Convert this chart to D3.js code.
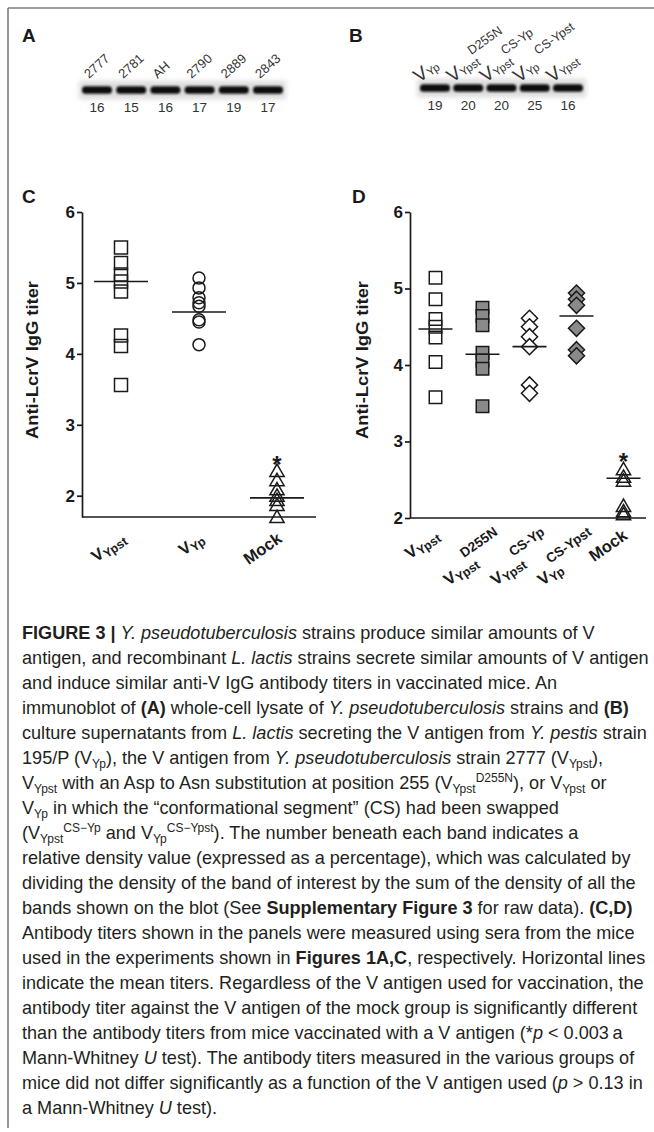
<!DOCTYPE html>
<html><head><meta charset="utf-8">
<script src="https://cdn.jsdelivr.net/npm/d3@7"></script>
<style>body{margin:0;background:#fff} svg{display:block}</style>
</head><body>
<svg id="fig" width="654" height="1132"></svg>
<script>
// ---------- DATA ----------
// Panel A: immunoblot of Y. pseudotuberculosis strains
const blotA_lanes = ["2777", "2781", "AH", "2790", "2889", "2843"];
const blotA_density = [16, 15, 16, 17, 19, 17];
// Panel B: L. lactis culture supernatants
const blotB_sub = ["Yp", "Ypst", "Ypst", "Yp", "Ypst"];
const blotB_sup = ["", "D255N", "CS-Yp", "CS-Ypst", ""];
const blotB_density = [19, 20, 20, 25, 16];
// Panel C: anti-LcrV IgG titers
const catsC = ["VYpst", "VYp", "Mock"];
const labelC = [["V", "Ypst"], ["V", "Yp"], ["Mock", ""]];
const titerC_VYpst = [5.50, 5.28, 5.12, 5.02, 4.88, 4.26, 4.11, 3.56];
const titerC_VYp = [5.07, 4.93, 4.79, 4.72, 4.67, 4.48, 4.45, 4.13];
const titerC_Mock = [2.33, 2.20, 2.07, 1.98, 1.92, 1.85, 1.68];
const meanC = [5.02, 4.59, 1.97];
const starC = 2.50;
// Panel D
const catsD = ["VYpst", "VYpstD255N", "VYpstCS-Yp", "VYpCS-Ypst", "Mock"];
const labelD_main = [["V", "Ypst"], ["V", "Ypst"], ["V", "Ypst"], ["V", "Yp"], ["Mock", ""]];
const labelD_sup = ["", "D255N", "CS-Yp", "CS-Ypst", ""];
const titerD_VYpst = [5.14, 4.86, 4.60, 4.50, 4.36, 4.04, 3.58];
const titerD_D255N = [4.75, 4.64, 4.52, 4.16, 4.06, 3.95, 3.46];
const titerD_CSYp = [4.61, 4.50, 4.37, 4.24, 3.74, 3.63];
const titerD_CSYpst = [4.94, 4.86, 4.78, 4.48, 4.20, 4.12];
const titerD_Mock = [2.62, 2.52, 2.47, 2.14, 2.07, 2.03];
const meanD = [4.47, 4.14, 4.24, 4.64, 2.52];
const starD = 2.80;
const yTicks = [2, 3, 4, 5, 6];

// Caption (rich text lines)
const captionLines = [
  [["b","FIGURE 3 | "],["i","Y. pseudotuberculosis"],["n"," strains produce similar amounts of V"]],
  [["n","antigen, and recombinant "],["i","L. lactis"],["n"," strains secrete similar amounts of V antigen"]],
  [["n","and induce similar anti-V IgG antibody titers in vaccinated mice. An"]],
  [["n","immunoblot of "],["b","(A)"],["n"," whole-cell lysate of "],["i","Y. pseudotuberculosis"],["n"," strains and "],["b","(B)"]],
  [["n","culture supernatants from "],["i","L. lactis"],["n"," secreting the V antigen from "],["i","Y. pestis"],["n"," strain"]],
  [["n","195/P (V"],["sub","Yp"],["n","), the V antigen from "],["i","Y. pseudotuberculosis"],["n"," strain 2777 (V"],["sub","Ypst"],["n","),"]],
  [["n","V"],["sub","Ypst"],["n"," with an Asp to Asn substitution at position 255 (V"],["sub","Ypst"],["sup","D255N"],["n","), or V"],["sub","Ypst"],["n"," or"]],
  [["n","V"],["sub","Yp"],["n"," in which the \u201cconformational segment\u201d (CS) had been swapped"]],
  [["n","(V"],["sub","Ypst"],["sup","CS\u2212Yp"],["n"," and V"],["sub","Yp"],["sup","CS\u2212Ypst"],["n","). The number beneath each band indicates a"]],
  [["n","relative density value (expressed as a percentage), which was calculated by"]],
  [["n","dividing the density of the band of interest by the sum of the density of all the"]],
  [["n","bands shown on the blot (See "],["b","Supplementary Figure 3"],["n"," for raw data). "],["b","(C,D)"]],
  [["n","Antibody titers shown in the panels were measured using sera from the mice"]],
  [["n","used in the experiments shown in "],["b","Figures 1A,C"],["n",", respectively. Horizontal lines"]],
  [["n","indicate the mean titers. Regardless of the V antigen used for vaccination, the"]],
  [["n","antibody titer against the V antigen of the mock group is significantly different"]],
  [["n","than the antibody titers from mice vaccinated with a V antigen (*"],["i","p"],["n"," < 0.003\u2009a"]],
  [["n","Mann-Whitney "],["i","U"],["n"," test). The antibody titers measured in the various groups of"]],
  [["n","mice did not differ significantly as a function of the V antigen used ("],["i","p"],["n"," > 0.13 in"]],
  [["n","a Mann-Whitney "],["i","U"],["n"," test)."]]
];

// ---------- DRAWING ----------
const FONT = "'Liberation Sans', Arial, Helvetica, sans-serif";
const INK = "#1a1a1a";
const svg = d3.select("#fig").attr("font-family", FONT);

const defs = svg.append("defs");
defs.append("filter").attr("id", "bandBlur").attr("x", "-20%").attr("y", "-80%").attr("width", "140%").attr("height", "260%")
  .append("feGaussianBlur").attr("stdDeviation", 1.1);
defs.append("filter").attr("id", "haloBlur").attr("x", "-10%").attr("y", "-50%").attr("width", "120%").attr("height", "200%")
  .append("feGaussianBlur").attr("stdDeviation", 2.5);

// frame lines
svg.append("line").attr("x1", 8).attr("x2", 654).attr("y1", 8).attr("y2", 8)
  .attr("stroke", "#7d7d7d").attr("stroke-width", 1.6);
svg.append("line").attr("x1", 8).attr("x2", 8).attr("y1", 8).attr("y2", 1128)
  .attr("stroke", "#7d7d7d").attr("stroke-width", 1.6);

// panel letters
function letter(t, x, y) {
  svg.append("text").attr("x", x).attr("y", y).attr("font-weight", "bold")
    .attr("font-size", 19).attr("fill", INK).text(t);
}
letter("A", 22, 42); letter("B", 349, 42); letter("C", 22, 203); letter("D", 352, 203);

// ---------- blots ----------
function blot(lanePos, densities, bandY, numY) {
  const g = svg.append("g");
  const xs = densities.map((d, i) => lanePos(i));
  g.append("rect").attr("x", xs[0] - 18).attr("width", xs[xs.length - 1] - xs[0] + 36)
    .attr("y", bandY - 9).attr("height", 18).attr("fill", "#dcdcdc").attr("filter", "url(#haloBlur)");
  g.selectAll("rect.band").data(densities).join("rect").attr("class", "band")
    .attr("x", (d, i) => lanePos(i) - 15).attr("width", 30)
    .attr("y", bandY - 3.8).attr("height", 7.6).attr("rx", 3.5)
    .attr("fill", "#111").attr("filter", "url(#bandBlur)");
  g.selectAll("text.num").data(densities).join("text").attr("class", "num")
    .attr("x", (d, i) => lanePos(i)).attr("y", numY).attr("text-anchor", "middle")
    .attr("font-size", 13.5).attr("fill", "#333").text(d => d);
  return g;
}
const xA = d3.scalePoint().domain(d3.range(blotA_lanes.length)).range([97, 268]);
const gA = blot(xA, blotA_density, 90, 112);
gA.selectAll("text.lab").data(blotA_lanes).join("text").attr("class", "lab")
  .attr("transform", (d, i) => `translate(${xA(i) - 8},79) rotate(-42)`)
  .attr("font-size", 13).attr("fill", "#333").text(d => d);

const xB = d3.scalePoint().domain(d3.range(blotB_density.length)).range([435, 568]);
const gB = blot(xB, blotB_density, 88, 110);
blotB_sub.forEach((s, i) => {
  const t = gB.append("text").attr("transform", `translate(${xB(i) - 16},83) rotate(-35)`)
    .attr("fill", "#333");
  t.append("tspan").attr("font-size", 19).text("V");
  t.append("tspan").attr("font-size", 11.5).attr("dy", 1).text(s);
  if (blotB_sup[i]) {
    gB.append("text").attr("transform", `translate(${xB(i) + 3},55) rotate(-35)`)
      .attr("font-size", 12.5).attr("fill", "#333").text(blotB_sup[i]);
  }
});

// ---------- scatter panels ----------
function richLabel(g, x, y, parts, anchor, angle) {
  const t = g.append("text").attr("transform", `translate(${x},${y}) rotate(${angle})`)
    .attr("text-anchor", anchor).attr("font-weight", "bold").attr("fill", INK);
  t.append("tspan").attr("font-size", 16.5).text(parts[0]);
  if (parts[1]) t.append("tspan").attr("font-size", 12.5).attr("dy", 3).text(parts[1]);
  return t;
}

function scatterPanel(cfg) {
  const g = svg.append("g");
  const x = d3.scaleBand().domain(cfg.cats).range(cfg.xRange);
  const y = d3.scaleLinear().domain(cfg.yDomain).range(cfg.yRange);
  const cx = c => x(c) + x.bandwidth() / 2;
  const axY = cfg.yRange[0];

  const ax = g.append("g").attr("transform", `translate(${cfg.axisX},0)`)
    .call(d3.axisLeft(y).tickValues(yTicks).tickSize(5).tickSizeOuter(0).tickPadding(2).tickFormat(d3.format("d")));
  ax.select(".domain").attr("stroke", INK).attr("stroke-width", 1.7);
  ax.selectAll(".tick line").attr("stroke", INK).attr("stroke-width", 1.7);
  ax.selectAll(".tick text").attr("font-size", 17).attr("font-weight", "bold")
    .attr("font-family", FONT).attr("fill", INK);
  g.append("line").attr("x1", cfg.axisX).attr("x2", cfg.xEnd).attr("y1", axY).attr("y2", axY)
    .attr("stroke", INK).attr("stroke-width", 1.7);

  g.append("text").attr("transform", `translate(${cfg.titleX},${cfg.titleY}) rotate(-90)`)
    .attr("text-anchor", "middle").attr("font-weight", "bold").attr("font-size", 16.5)
    .attr("textLength", 158).attr("lengthAdjust", "spacingAndGlyphs")
    .attr("fill", INK).text("Anti-LcrV IgG titer");

  cfg.series.forEach((s, i) => {
    const sym = d3.symbol().type(s.type).size(s.size);
    g.selectAll(null).data(s.values).join("path")
      .attr("transform", d => `translate(${cx(cfg.cats[i])},${y(d)})`)
      .attr("d", sym).attr("fill", s.fill).attr("stroke", INK).attr("stroke-width", 1.5);
  });
  g.selectAll(null).data(cfg.means).join("line")
    .attr("x1", (d, i) => cx(cfg.cats[i]) - cfg.meanW / 2)
    .attr("x2", (d, i) => cx(cfg.cats[i]) + cfg.meanW / 2)
    .attr("y1", d => y(d)).attr("y2", d => y(d))
    .attr("stroke", INK).attr("stroke-width", 1.6);
  const last = cfg.cats[cfg.cats.length - 1];
  g.append("text").attr("x", cx(last)).attr("y", y(cfg.star) + 13).attr("text-anchor", "middle")
    .attr("font-size", 24).attr("font-weight", "bold").attr("fill", INK).text("*");

  return {g, x, y, cx, axY};
}

// Panel C
const pC = scatterPanel({
  cats: catsC, xRange: [82, 316], axisX: 82, xEnd: 316,
  yDomain: [1.7, 6], yRange: [517, 212], titleX: 38, titleY: 360, meanW: 54,
  series: [
    {values: titerC_VYpst, type: d3.symbolSquare, size: 169, fill: "none"},
    {values: titerC_VYp, type: d3.symbolCircle, size: 113, fill: "none"},
    {values: titerC_Mock, type: d3.symbolTriangle, size: 88, fill: "none"}
  ],
  means: meanC, star: starC
});
catsC.forEach((c, i) => {
  richLabel(pC.g, pC.cx(c) + 6, pC.axY + 24, labelC[i], "end", -35);
});

// Panel D
const grayFill = "#8a8a8a";
const pD = scatterPanel({
  cats: catsD, xRange: [412, 647], axisX: 410, xEnd: 646,
  yDomain: [2, 6], yRange: [518, 212], titleX: 368, titleY: 360, meanW: 34,
  series: [
    {values: titerD_VYpst, type: d3.symbolSquare, size: 156, fill: "none"},
    {values: titerD_D255N, type: d3.symbolSquare, size: 156, fill: grayFill},
    {values: titerD_CSYp, type: d3.symbolDiamond2, size: 165, fill: "#fff"},
    {values: titerD_CSYpst, type: d3.symbolDiamond2, size: 165, fill: grayFill},
    {values: titerD_Mock, type: d3.symbolTriangle, size: 88, fill: "none"}
  ],
  means: meanD, star: starD
});
catsD.forEach((c, i) => {
  const cx = pD.cx(c);
  if (labelD_sup[i]) {
    pD.g.append("text").attr("transform", `translate(${cx + 16},${pD.axY + 16}) rotate(-35)`)
      .attr("text-anchor", "end").attr("font-weight", "bold").attr("font-size", 13.5)
      .attr("fill", INK).text(labelD_sup[i]);
    richLabel(pD.g, cx - 34, pD.axY + 68, labelD_main[i], "start", -35);
  } else {
    richLabel(pD.g, cx + 5, pD.axY + 20, labelD_main[i], "end", -35);
  }
});

// ---------- caption ----------
const cap = svg.append("g").attr("fill", "#231f20").attr("font-size", 18.1);
captionLines.forEach((segs, i) => {
  const t = cap.append("text").attr("x", 22).attr("y", 639 + i * 25);
  let shift = 0;
  segs.forEach(([st, txt]) => {
    const target = st === "sub" ? 4 : st === "sup" ? -7 : 0;
    const ts = t.append("tspan").attr("dy", target - shift).text(txt);
    shift = target;
    if (st === "b") ts.attr("font-weight", "bold");
    if (st === "i") ts.attr("font-style", "italic");
    if (st === "sub" || st === "sup") ts.attr("font-size", 12);
  });
});
</script>
</body></html>
